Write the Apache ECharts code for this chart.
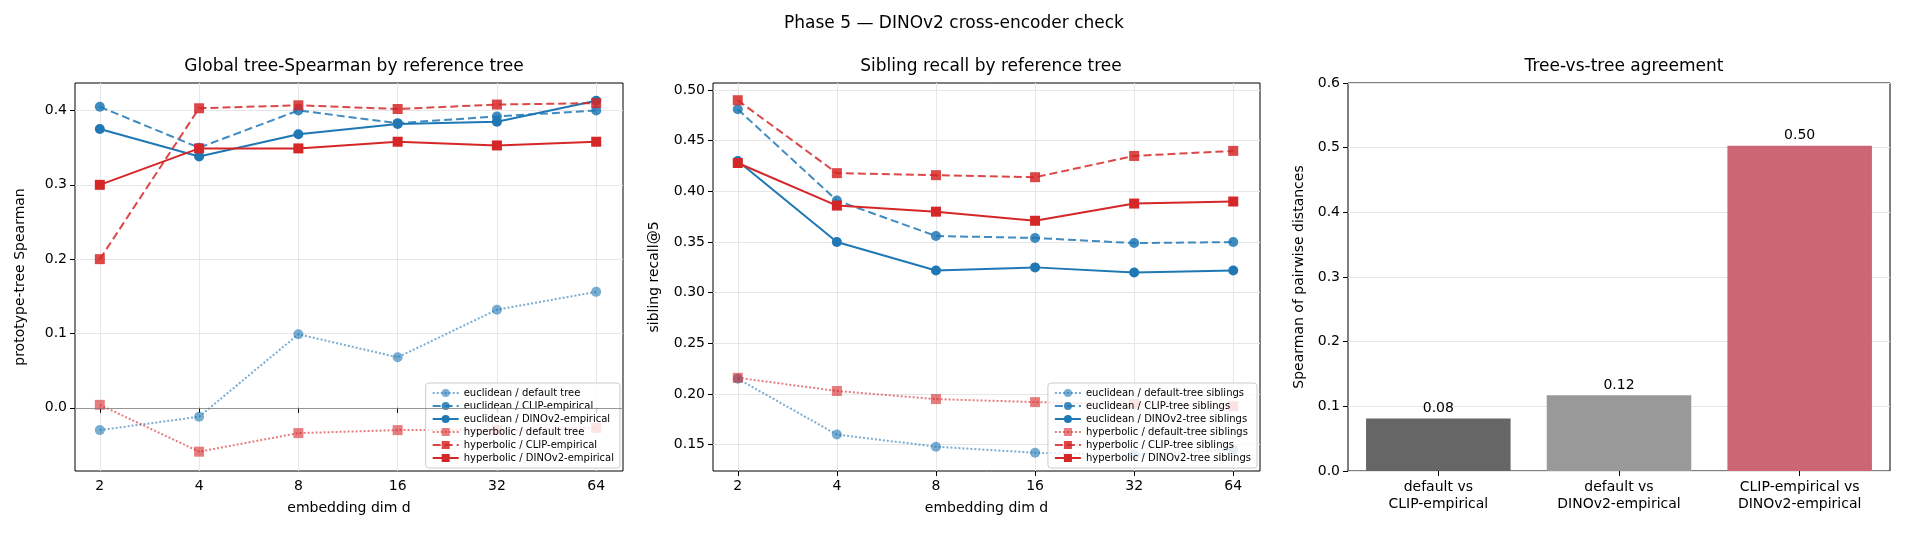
<!DOCTYPE html>
<html><head><meta charset="utf-8">
<script src="https://cdn.jsdelivr.net/npm/echarts@6/dist/echarts.min.js"></script>
<style>html,body{margin:0;padding:0;background:#fff}#c{width:1908px;height:537px}</style>
</head><body><div id="c"></div>
<script>
const dims = ['2','4','8','16','32','64'];
// Global tree-Spearman
const gEucDefault = [-0.030, -0.012, 0.099, 0.068, 0.132, 0.156];
const gEucClip    = [0.405, 0.350, 0.400, 0.383, 0.392, 0.400];
const gEucDino    = [0.375, 0.338, 0.368, 0.382, 0.385, 0.413];
const gHypDefault = [0.004, -0.059, -0.034, -0.030, -0.030, -0.027];
const gHypClip    = [0.200, 0.403, 0.407, 0.402, 0.408, 0.410];
const gHypDino    = [0.300, 0.349, 0.349, 0.358, 0.353, 0.358];
// Sibling recall
const sEucDefault = [0.215, 0.160, 0.148, 0.142, 0.140, 0.145];
const sEucClip    = [0.481, 0.391, 0.356, 0.354, 0.349, 0.350];
const sEucDino    = [0.430, 0.350, 0.322, 0.325, 0.320, 0.322];
const sHypDefault = [0.216, 0.203, 0.195, 0.192, 0.190, 0.188];
const sHypClip    = [0.490, 0.418, 0.416, 0.414, 0.435, 0.440];
const sHypDino    = [0.428, 0.386, 0.380, 0.371, 0.388, 0.390];
// Tree-vs-tree
const barCats = ['default vs\nCLIP-empirical', 'default vs\nDINOv2-empirical', 'CLIP-empirical vs\nDINOv2-empirical'];
const barVals = [0.081, 0.117, 0.503];
const barColors = ['#666666', '#999999', '#cc6674'];

const BLUE = '#1f77b4', RED = '#d62728';
const F = 'DejaVu Sans';
const pts = arr => arr.map((v, i) => [i + 1, v]);
function line(name, data, color, type, sym, xi, alpha) {
  return {
    name, type: 'line', data: pts(data), xAxisIndex: xi, yAxisIndex: xi,
    symbol: sym, symbolSize: sym === 'rect' ? 10 : 10,
    lineStyle: { color, width: 2, type, opacity: alpha },
    itemStyle: { color, opacity: alpha },
    emphasis: { disabled: true }, animation: false
  };
}
const gridCommon = { show: true, borderColor: '#000', borderWidth: 1, backgroundColor: 'transparent' };
const splitL = { show: true, lineStyle: { color: '#e6e6e6' } };
function xAxisDef(gi) {
  return {
    type: 'value', gridIndex: gi, min: 0.75, max: 6.27,
    name: 'embedding dim d', nameLocation: 'middle', nameGap: 30,
    nameTextStyle: { fontFamily: F, fontSize: 14, color: '#000' },
    axisLine: { show: false },
    axisTick: { show: true, customValues: [1, 2, 3, 4, 5, 6], length: 5, lineStyle: { color: '#000' } },
    axisLabel: { customValues: [1, 2, 3, 4, 5, 6], formatter: v => dims[Math.round(v) - 1], fontFamily: F, fontSize: 14, color: '#000', margin: 8 },
    splitLine: splitL
  };
}
const legendStyle = { fontFamily: F, fontSize: 10, color: '#000' };
const option = {
  animation: false,
  title: [
    { text: 'Phase 5 — DINOv2 cross-encoder check', left: 'center', top: 10, textStyle: { fontFamily: F, fontSize: 17, fontWeight: 'normal', color: '#000' } },
    { text: 'Global tree-Spearman by reference tree', left: 349, top: 53, textAlign: 'center', textStyle: { fontFamily: F, fontSize: 17, fontWeight: 'normal', color: '#000' } },
    { text: 'Sibling recall by reference tree', left: 986, top: 53, textAlign: 'center', textStyle: { fontFamily: F, fontSize: 17, fontWeight: 'normal', color: '#000' } },
    { text: 'Tree-vs-tree agreement', left: 1619, top: 53, textAlign: 'center', textStyle: { fontFamily: F, fontSize: 17, fontWeight: 'normal', color: '#000' } }
  ],
  grid: [
    Object.assign({ left: 75, top: 83, width: 548, height: 388 }, gridCommon),
    Object.assign({ left: 713, top: 83, width: 547, height: 388 }, gridCommon),
    Object.assign({ left: 1348, top: 83, width: 542, height: 388 }, gridCommon)
  ],
  legend: [
    { data: ['euclidean / default tree', 'euclidean / CLIP-empirical', 'euclidean / DINOv2-empirical', 'hyperbolic / default tree', 'hyperbolic / CLIP-empirical', 'hyperbolic / DINOv2-empirical'],
      orient: 'vertical', right: 1908 - 620, bottom: 537 - 468, itemGap: 3, itemWidth: 26, itemHeight: 10,
      backgroundColor: 'rgba(255,255,255,0.8)', borderColor: '#ccc', borderWidth: 1, borderRadius: 3, padding: [5, 6],
      textStyle: legendStyle, selectedMode: false },
    { data: ['euclidean / default-tree siblings', 'euclidean / CLIP-tree siblings', 'euclidean / DINOv2-tree siblings', 'hyperbolic / default-tree siblings', 'hyperbolic / CLIP-tree siblings', 'hyperbolic / DINOv2-tree siblings'],
      orient: 'vertical', right: 1908 - 1257, bottom: 537 - 468, itemGap: 3, itemWidth: 26, itemHeight: 10,
      backgroundColor: 'rgba(255,255,255,0.8)', borderColor: '#ccc', borderWidth: 1, borderRadius: 3, padding: [5, 6],
      textStyle: legendStyle, selectedMode: false }
  ],
  xAxis: [
    xAxisDef(0), xAxisDef(1),
    { type: 'category', gridIndex: 2, data: barCats, axisLine: { show: false },
      axisTick: { show: true, alignWithLabel: true, lineStyle: { color: '#000' } },
      axisLabel: { fontFamily: F, fontSize: 14, color: '#000', lineHeight: 17, margin: 8 } }
  ],
  yAxis: [
    { type: 'value', gridIndex: 0, min: -0.085, max: 0.437, name: 'prototype-tree Spearman', nameLocation: 'middle', nameGap: 48,
      nameTextStyle: { fontFamily: F, fontSize: 14, color: '#000' }, axisLine: { show: false },
      axisTick: { show: true, customValues: [0, 0.1, 0.2, 0.3, 0.4], lineStyle: { color: '#000' } },
      axisLabel: { customValues: [0, 0.1, 0.2, 0.3, 0.4], formatter: v => v.toFixed(1), fontFamily: F, fontSize: 14, color: '#000' },
      splitLine: splitL },
    { type: 'value', gridIndex: 1, min: 0.124, max: 0.507, name: 'sibling recall@5', nameLocation: 'middle', nameGap: 52,
      nameTextStyle: { fontFamily: F, fontSize: 14, color: '#000' }, axisLine: { show: false },
      axisTick: { show: true, customValues: [0.15, 0.2, 0.25, 0.3, 0.35, 0.4, 0.45, 0.5], lineStyle: { color: '#000' } },
      axisLabel: { customValues: [0.15, 0.2, 0.25, 0.3, 0.35, 0.4, 0.45, 0.5], formatter: v => v.toFixed(2), fontFamily: F, fontSize: 14, color: '#000' },
      splitLine: splitL },
    { type: 'value', gridIndex: 2, min: 0, max: 0.6, interval: 0.1, name: 'Spearman of pairwise distances', nameLocation: 'middle', nameGap: 42,
      nameTextStyle: { fontFamily: F, fontSize: 14, color: '#000' }, axisLine: { show: false },
      axisTick: { show: true, lineStyle: { color: '#000' } },
      axisLabel: { formatter: v => v.toFixed(1), fontFamily: F, fontSize: 14, color: '#000' },
      splitLine: splitL }
  ],
  series: [
    Object.assign(line('euclidean / default tree', gEucDefault, BLUE, 'dotted', 'circle', 0, 0.6), {
      markLine: { silent: true, symbol: 'none', label: { show: false }, lineStyle: { color: '#808080', width: 0.8, type: 'solid' }, data: [{ yAxis: 0 }] } }),
    line('euclidean / CLIP-empirical', gEucClip, BLUE, 'dashed', 'circle', 0, 0.85),
    line('euclidean / DINOv2-empirical', gEucDino, BLUE, 'solid', 'circle', 0, 1),
    line('hyperbolic / default tree', gHypDefault, RED, 'dotted', 'rect', 0, 0.6),
    line('hyperbolic / CLIP-empirical', gHypClip, RED, 'dashed', 'rect', 0, 0.85),
    line('hyperbolic / DINOv2-empirical', gHypDino, RED, 'solid', 'rect', 0, 1),
    line('euclidean / default-tree siblings', sEucDefault, BLUE, 'dotted', 'circle', 1, 0.6),
    line('euclidean / CLIP-tree siblings', sEucClip, BLUE, 'dashed', 'circle', 1, 0.85),
    line('euclidean / DINOv2-tree siblings', sEucDino, BLUE, 'solid', 'circle', 1, 1),
    line('hyperbolic / default-tree siblings', sHypDefault, RED, 'dotted', 'rect', 1, 0.6),
    line('hyperbolic / CLIP-tree siblings', sHypClip, RED, 'dashed', 'rect', 1, 0.85),
    line('hyperbolic / DINOv2-tree siblings', sHypDino, RED, 'solid', 'rect', 1, 1),
    { type: 'bar', xAxisIndex: 2, yAxisIndex: 2, barCategoryGap: '20%',
      data: barVals.map((v, i) => ({ value: v, itemStyle: { color: barColors[i] } })),
      label: { show: true, position: 'top', formatter: p => p.value.toFixed(2), fontFamily: F, fontSize: 14, color: '#000', distance: 3 } }
  ]
};
echarts.init(document.getElementById('c')).setOption(option);
</script></body></html>
